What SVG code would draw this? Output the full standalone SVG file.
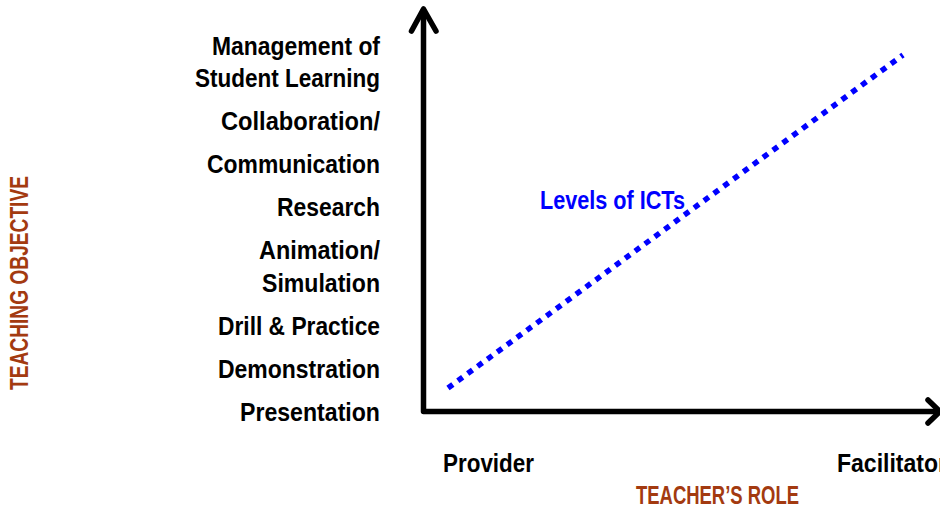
<svg xmlns="http://www.w3.org/2000/svg" width="940" height="510" viewBox="0 0 940 510">
<style>
.lbl{font-family:"Liberation Sans",Arial,sans-serif;font-weight:bold;font-size:26px;fill:#000}
.r{text-anchor:end}
.ttl{font-family:"Liberation Sans",Arial,sans-serif;font-weight:bold;font-size:25px;fill:#A33A10}
.blue{font-family:"Liberation Sans",Arial,sans-serif;font-weight:bold;font-size:26px;fill:#0000FF}
.axis{fill:none;stroke:#000;stroke-width:5.5;stroke-linecap:round;stroke-linejoin:round}
</style>
<rect width="940" height="510" fill="#fff"/>
<g id="connectors">
<path class="axis" d="M423.5,12 V411.5 H936"/>
<path class="axis" d="M411.5,31 L423.5,9 L436,31"/>
<path class="axis" d="M928,400 L940,411.5 L928,423"/>
<line id="ict-line" x1="448" y1="388" x2="903" y2="55" stroke="#0000FF" stroke-width="5.5" stroke-dasharray="6 6.2"/>
</g>
<g id="y-labels">
<text class="lbl r" x="380" y="55" textLength="168" lengthAdjust="spacingAndGlyphs">Management of</text>
<text class="lbl r" x="380" y="87" textLength="185" lengthAdjust="spacingAndGlyphs">Student Learning</text>
<text class="lbl r" x="380" y="130" textLength="159" lengthAdjust="spacingAndGlyphs">Collaboration/</text>
<text class="lbl r" x="380" y="173" textLength="173" lengthAdjust="spacingAndGlyphs">Communication</text>
<text class="lbl r" x="380" y="216" textLength="103" lengthAdjust="spacingAndGlyphs">Research</text>
<text class="lbl r" x="380" y="259" textLength="121" lengthAdjust="spacingAndGlyphs">Animation/</text>
<text class="lbl r" x="380" y="292" textLength="118" lengthAdjust="spacingAndGlyphs">Simulation</text>
<text class="lbl r" x="380" y="335" textLength="162" lengthAdjust="spacingAndGlyphs">Drill &amp; Practice</text>
<text class="lbl r" x="380" y="378" textLength="162" lengthAdjust="spacingAndGlyphs">Demonstration</text>
<text class="lbl r" x="380" y="421" textLength="140" lengthAdjust="spacingAndGlyphs">Presentation</text>
</g>
<g id="x-labels">
<text class="lbl" x="443" y="472" textLength="91" lengthAdjust="spacingAndGlyphs">Provider</text>
<text class="lbl" x="837" y="472" textLength="110" lengthAdjust="spacingAndGlyphs">Facilitator</text>
</g>
<g id="titles">
<text class="ttl" x="636" y="504" textLength="163" lengthAdjust="spacingAndGlyphs">TEACHER’S ROLE</text>
<text class="ttl" transform="translate(28,390) rotate(-90)" x="0" y="0" textLength="214" lengthAdjust="spacingAndGlyphs">TEACHING OBJECTIVE</text>
</g>
<g id="ict-label">
<text class="blue" x="540" y="209" textLength="145" lengthAdjust="spacingAndGlyphs">Levels of ICTs</text>
</g>
</svg>
